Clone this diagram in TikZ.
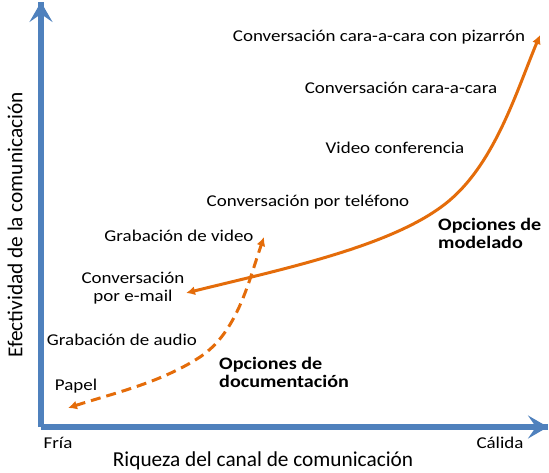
\documentclass[tikz,border=0pt]{standalone}
\usepackage{fontspec}
\setmainfont{Carlito}
\usetikzlibrary{arrows.meta}
\definecolor{axisblue}{RGB}{79,129,189}
\definecolor{curveorange}{RGB}{228,108,10}
\begin{document}
\begin{tikzpicture}[x=1pt,y=-1pt,
  axisline/.style={draw=axisblue,line width=5.5pt,line join=miter},
  axtip/.style={-{Stealth[length=20pt,width=23pt,inset=8pt]}},
  lbl/.style={font=\fontsize{16.5}{17.4}\selectfont,xscale=1.15,inner sep=0pt,text=black,align=center},
  boldlbl/.style={font=\fontsize{17.5}{18.3}\selectfont\bfseries,xscale=1.15,inner sep=0pt,align=left,anchor=west},
  axtitle/.style={font=\fontsize{21.3}{24}\selectfont,inner sep=0pt},
  curve/.style={draw=curveorange,line width=3pt},
  ctip/.style={{Latex[length=9pt,width=9pt]}-{Latex[length=9pt,width=9pt]}},
  dashcurve/.style={curve,dash pattern=on 10pt off 6pt}
]
\useasboundingbox (0,0) rectangle (549,473);
% axes
\coordinate (O) at (41,427);
\coordinate (Ytop) at (41,2);
\coordinate (Xend) at (548,427);
\draw[axisline] (O) -- (Ytop);
\draw[axisline] (O) -- (Xend);
\draw[axisline,axtip] (41,40) -- (Ytop);
\draw[axisline,axtip] (500,427) -- (Xend);
% axis labels
\node[lbl] (fria) at (58,443) {Fría};
\node[lbl] (calida) at (500,443) {Cálida};
\node[axtitle] (xtitle) at (263,461) {Riqueza del canal de comunicación};
\node[axtitle,rotate=90] (ytitle) at (15,225) {Efectividad de la comunicación};
% item labels
\node[lbl] (pizarron) at (379,37) {Conversación cara-a-cara con pizarrón};
\node[lbl] (caracara) at (401,88) {Conversación cara-a-cara};
\node[lbl] (videoconf) at (395,148) {Video conferencia};
\node[lbl] (telefono) at (308,202) {Conversación por teléfono};
\node[lbl] (gvideo) at (179,236) {Grabación de video};
\node[lbl] (email) at (133,288) {Conversación\\por e-mail};
\node[lbl] (gaudio) at (122,340) {Grabación de audio};
\node[lbl] (papel) at (76,386) {Papel};
\node[boldlbl] (docu) at (219,372.5) {Opciones de\\documentación};
\node[boldlbl] (modelado) at (438,233.5) {Opciones de\\modelado};
% modelado curve
\coordinate (s0) at (186,293);
\coordinate (sm) at (450,200);
\coordinate (s1) at (540,35);
\draw[curve,ctip] (s0) .. controls (283,269) and (397,245.5) .. (sm)
  .. controls (495.6,161) and (517,90) .. (s1);
% documentacion curve
\coordinate (d0) at (68,408);
\coordinate (dm) at (200,357);
\coordinate (d1) at (264,237);
\draw[dashcurve,ctip] (d0) .. controls (112.7,393.4) and (160.5,382.9) .. (dm)
  .. controls (237.8,332.2) and (249.2,279.3) .. (d1);
\end{tikzpicture}
\end{document}
